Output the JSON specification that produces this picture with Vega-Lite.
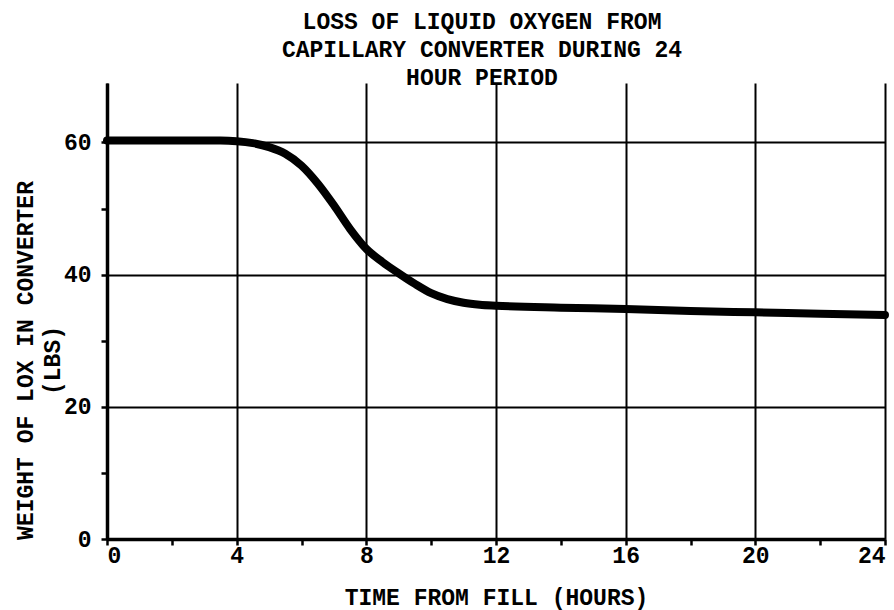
{
  "$schema": "https://vega.github.io/schema/vega-lite/v6.json",
  "width": 778,
  "height": 456,
  "autosize": {"type": "none"},
  "padding": {"left": 107, "top": 83, "right": 9, "bottom": 71},
  "background": "white",
  "title": {
    "text": ["LOSS OF LIQUID OXYGEN FROM", "CAPILLARY CONVERTER DURING 24", "HOUR PERIOD"],
    "font": "Liberation Mono",
    "fontWeight": "bold",
    "fontSize": 23,
    "lineHeight": 28,
    "color": "black",
    "anchor": "middle",
    "offset": -7,
    "dx": -14
  },
  "config": {
    "view": {"stroke": null},
    "axis": {
      "labelFont": "Liberation Mono",
      "labelFontWeight": "bold",
      "labelFontSize": 23,
      "labelColor": "black",
      "titleFont": "Liberation Mono",
      "titleFontWeight": "bold",
      "titleFontSize": 23,
      "titleColor": "black",
      "domainColor": "black",
      "domainWidth": 3.5,
      "tickColor": "black",
      "tickWidth": 2.5,
      "gridColor": "black",
      "gridWidth": 2
    }
  },
  "data": {
    "values": [
      {"hours": 0, "lox": 60.3},
      {"hours": 1, "lox": 60.3},
      {"hours": 2, "lox": 60.3},
      {"hours": 3, "lox": 60.3},
      {"hours": 3.5, "lox": 60.3},
      {"hours": 4, "lox": 60.2},
      {"hours": 4.5, "lox": 59.9},
      {"hours": 5, "lox": 59.3},
      {"hours": 5.5, "lox": 58.3},
      {"hours": 6, "lox": 56.5},
      {"hours": 6.5, "lox": 53.8},
      {"hours": 7, "lox": 50.5},
      {"hours": 7.5, "lox": 46.9},
      {"hours": 8, "lox": 43.9},
      {"hours": 8.5, "lox": 41.9},
      {"hours": 9, "lox": 40.2},
      {"hours": 9.5, "lox": 38.6},
      {"hours": 10, "lox": 37.2},
      {"hours": 10.5, "lox": 36.3},
      {"hours": 11, "lox": 35.75},
      {"hours": 11.5, "lox": 35.45},
      {"hours": 12, "lox": 35.3},
      {"hours": 14, "lox": 35.0},
      {"hours": 16, "lox": 34.8},
      {"hours": 18, "lox": 34.5},
      {"hours": 20, "lox": 34.3},
      {"hours": 22, "lox": 34.1},
      {"hours": 24, "lox": 33.9}
    ]
  },
  "mark": {"type": "line", "color": "black", "strokeWidth": 8, "interpolate": "monotone", "strokeCap": "round"},
  "encoding": {
    "x": {
      "field": "hours",
      "type": "quantitative",
      "scale": {"domain": [0, 24], "nice": false, "zero": false},
      "axis": {
        "title": "TIME FROM FILL (HOURS)",
        "values": [0, 2, 4, 6, 8, 10, 12, 14, 16, 18, 20, 22, 24],
        "labelExpr": "datum.value % 4 === 0 ? datum.label : ''",
        "gridOpacity": {"condition": {"test": "datum.value % 4 === 0", "value": 1}, "value": 0},
        "tickSize": 6,
        "labelPadding": -1,
        "labelFlush": true,
        "titlePadding": 19
      }
    },
    "y": {
      "field": "lox",
      "type": "quantitative",
      "scale": {"domain": [0, 69], "nice": false},
      "axis": {
        "title": ["WEIGHT OF LOX IN CONVERTER", "(LBS)"],
        "titleLineHeight": 27,
        "titleY": 277,
        "titlePadding": -1,
        "values": [0, 10, 20, 30, 40, 50, 60],
        "labelExpr": "datum.value % 20 === 0 ? datum.label : ''",
        "gridOpacity": {"condition": {"test": "datum.value % 20 === 0", "value": 1}, "value": 0},
        "tickSize": 6,
        "labelPadding": 10,
        "labelFlush": false
      }
    }
  }
}
